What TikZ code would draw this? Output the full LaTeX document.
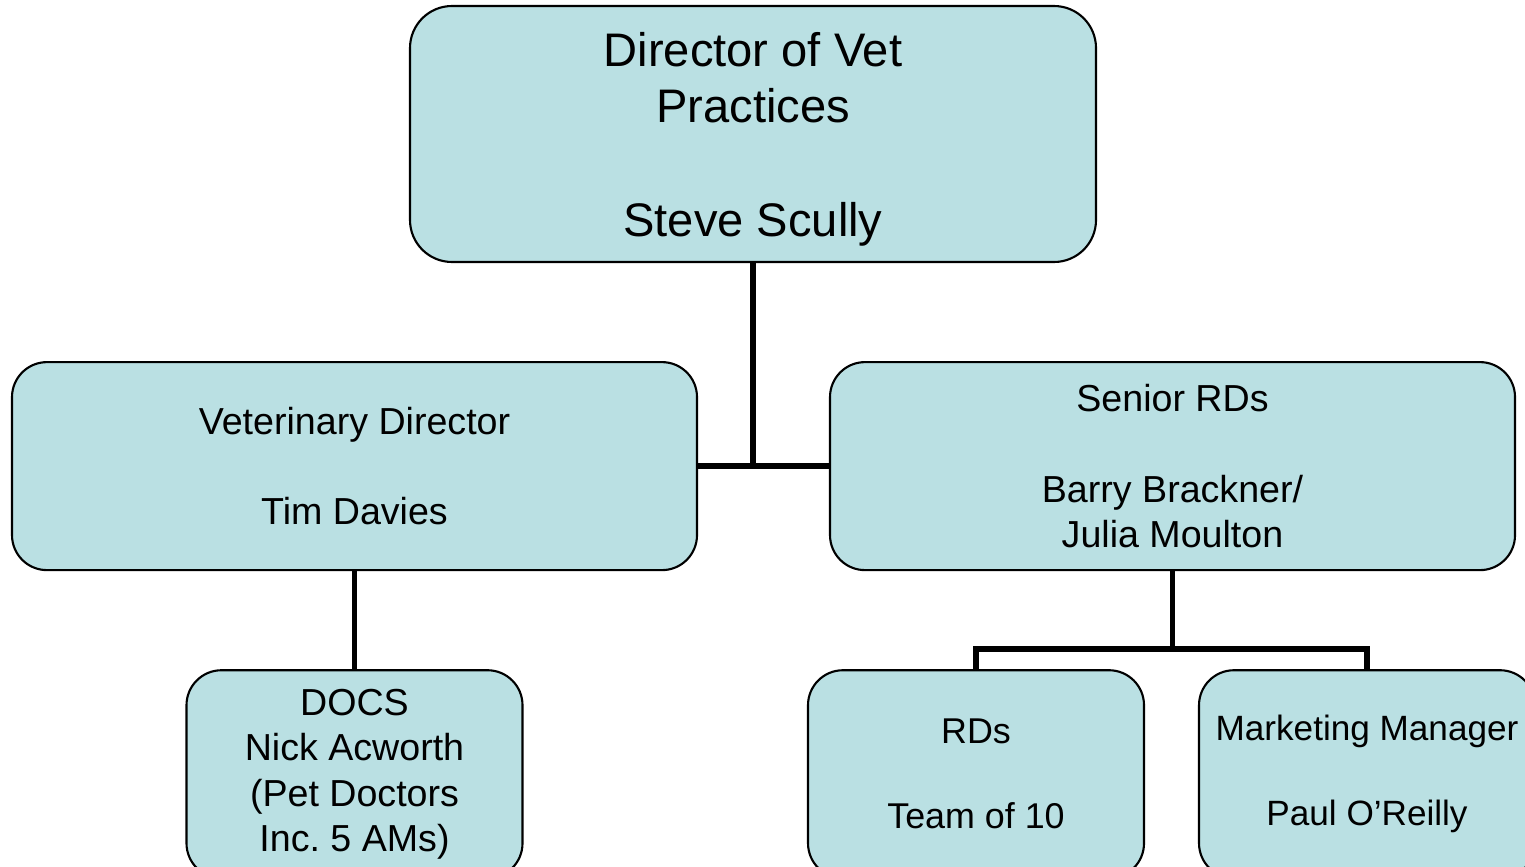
\documentclass[tikz,border=0pt]{standalone}
\usepackage{fontspec}
\setmainfont{Liberation Sans}
\usepackage{tikz}
\usetikzlibrary{positioning}
\definecolor{boxfill}{RGB}{186,224,227}
\tikzset{
	post/.style={draw=black, line width=0.6pt, fill=boxfill, rounded corners=0.35cm, align=center, inner sep=0pt, minimum height=2.08cm, font=\fontsize{10.7}{12.9}\selectfont},
	wide/.style={post, minimum width=6.85cm},
	small/.style={post, minimum width=3.36cm},
	link/.style={line width=1.6pt}
}
\begin{document}
\begin{tikzpicture}[node distance=1cm]
				\useasboundingbox (0,0) rectangle (15.25,-8.66);
				\clip (0,0) rectangle (15.25,-8.66);
				\node (dir) [post, minimum width=6.86cm, minimum height=2.56cm, rounded corners=0.42cm, font=\fontsize{13.4}{16}\selectfont] at (7.53,-1.34) {\rule{0pt}{12.7pt}Director of Vet\\Practices\\[16.3pt]Steve Scully};
				\node (vetdir) [wide, below=0.98cm of dir, xshift=-3.985cm] {Veterinary Director\\[12.9pt]Tim Davies};
				\node (senior) [wide, below=0.98cm of dir, xshift=4.195cm] {Senior RDs\\[12.9pt]Barry Brackner/\\Julia Moulton};
				\node (docs) [small, below=0.98cm of vetdir] {DOCS\\Nick Acworth\\(Pet Doctors\\Inc.\ 5 AMs)};
				\node (rds) [small, below=0.98cm of senior, xshift=-1.965cm, font=\fontsize{10.2}{12.4}\selectfont] {RDs\\[11.8pt]Team of 10};
				\node (mkt) [small, below=0.98cm of senior, xshift=1.945cm, font=\fontsize{10}{12.4}\selectfont] {Marketing Manager\\[11.8pt]Paul O’Reilly};
				\coordinate [below=0.78cm of senior] (split);
				\draw[link] (dir) -- (dir |- vetdir.east);
				\draw[link] (vetdir) -- (senior);
				\draw[link] (vetdir) -- (docs);
				\draw[link] (senior) -- (split) -| (rds);
				\draw[link] (split) -| (mkt);
			\end{tikzpicture}
\end{document}
